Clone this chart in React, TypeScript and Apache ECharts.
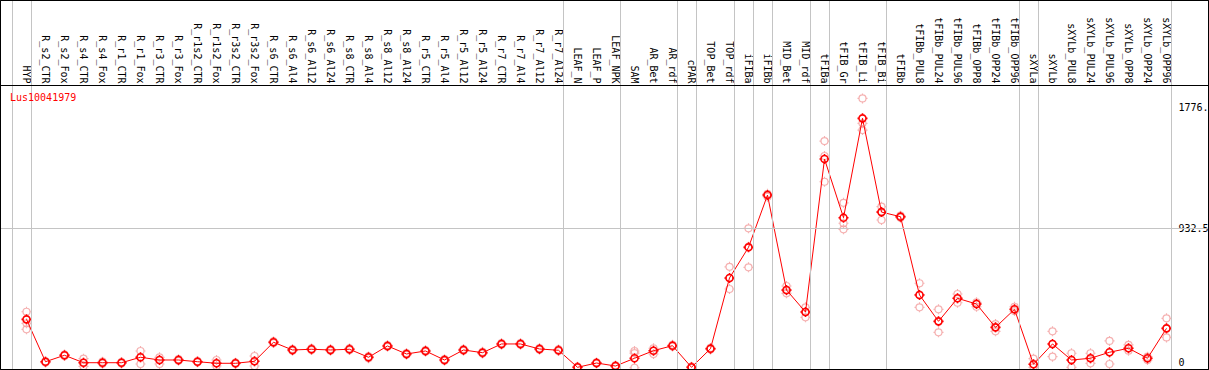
import React, { useEffect, useRef } from 'react';
import * as echarts from 'echarts';

const categories = [
  'HYP', 'R_s2_CTR', 'R_s2_Fox', 'R_s4_CTR', 'R_s4_Fox', 'R_r1_CTR', 'R_r1_Fox', 'R_r3_CTR', 'R_r3_Fox',
  'R_r1s2_CTR', 'R_r1s2_Fox', 'R_r3s2_CTR', 'R_r3s2_Fox', 'R_s6_CTR', 'R_s6_Al4', 'R_s6_Al12', 'R_s6_Al24',
  'R_s8_CTR', 'R_s8_Al4', 'R_s8_Al12', 'R_s8_Al24', 'R_r5_CTR', 'R_r5_Al4', 'R_r5_Al12', 'R_r5_Al24',
  'R_r7_CTR', 'R_r7_Al4', 'R_r7_Al12', 'R_r7_Al24', 'LEAF_N', 'LEAF_P', 'LEAF_NPK', 'SAM', 'AR_Bet', 'AR_rdf',
  'cPAR', 'TOP_Bet', 'TOP_rdf', 'iFIBa', 'iFIBb', 'MID_Bet', 'MID_rdf', 'tFIBa', 'tFIB_Gr', 'tFIB_Li', 'tFIB_Bi',
  'tFIBb', 'tFIBb_PUL8', 'tFIBb_PUL24', 'tFIBb_PUL96', 'tFIBb_OPP8', 'tFIBb_OPP24', 'tFIBb_OPP96', 'sXYLa',
  'sXYLb', 'sXYLb_PUL8', 'sXYLb_PUL24', 'sXYLb_PUL96', 'sXYLb_OPP8', 'sXYLb_OPP24', 'sXYLb_OPP96',
];

const meanValues = [
  298, 2, 47, -5, -5, -5, 33, 14, 14, 2, -9, -9, 5, 138, 84, 89, 84, 89, 33, 112, 56, 77, 14, 84, 65,
  126, 126, 91, 82, -37, -7, -28, 26, 79, 114, -37, 93, 587, 801, 1166, 503, 349, 1418, 1008, 1702, 1047,
  1015, 468, 284, 445, 405, 242, 368, -16, 126, 14, 26, 68, 96, 26, 235,
];

const rep1 = [
  351, 4, 52, 23, 2, 0, 77, 33, 20, 6, 14, -5, 42, 144, 90, 95, 90, 95, 39, 118, 62, 83, 20, 90, 71,
  132, 132, 97, 88, -33, -3, -24, 77, 96, 120, -33, 98, 665, 934, 1175, 531, 382, 1543, 1112, 1841, 1085,
  1022, 550, 368, 475, 417, 265, 386, 23, 214, 61, 61, 147, 119, 37, 305,
];

const rep2 = [
  270, 0, 47, -5, -5, -5, 33, 14, 14, 2, -9, -9, 5, 138, 84, 89, 84, 89, 33, 112, 56, 77, 14, 84, 65,
  126, 126, 91, 82, -37, -7, -28, 62, 80, 114, -37, 93, 585, 805, 1166, 500, 350, 1439, 969, 1667, 1050,
  1015, 470, 284, 445, 405, 242, 368, -16, 126, 14, 26, 68, 96, 26, 235,
];

const rep3 = [
  228, -4, 42, -30, -12, -10, -14, -14, 8, -2, -28, -13, -28, 132, 78, 83, 78, 83, 27, 106, 50, 71, 8, 78, 59,
  120, 120, 85, 76, -41, -11, -32, -40, 56, 108, -41, 88, 510, 661, 1155, 480, 312, 1259, 927, 1620, 992,
  1008, 382, 207, 414, 386, 214, 356, -37, 37, -37, -9, -14, 79, 14, 172,
];

// number of consecutive categories in each separated group
const groupSizes = [1, 28, 3, 3, 1, 2, 1, 1, 2, 1, 3, 7, 1, 7];

const yTickValues = [0, 932.5, 1776.6];
const yTickLabels = ['0', '932.5', '1776.'];

const geneId = 'Lus10041979';

// layout (pixels)
const W = 1209;
const H = 370;
const FRAME_L = 0.5;
const FRAME_T = 0.5;
const FRAME_R = 1208.5;
const FRAME_B = 369.5;
const X_FIRST = 26.5;
const X_STEP = 19;
const Y_ZERO = 362;
const Y_REF = 228.5;
const HEADER_Y = 85.5;
const SEP_OFFSET = 4.5;
const FONT = '"DejaVu Sans Mono", monospace';

const MARKER =
  'path://M8.5,5A3.5,3.5,0,1,1,1.5,5A3.5,3.5,0,1,1,8.5,5ZM5,0L5,1.5M5,8.5L5,10M0,5L1.5,5M8.5,5L10,5';

export default function App() {
  const ref = useRef<HTMLDivElement>(null);

  useEffect(() => {
    const chart = echarts.init(ref.current!, null, { renderer: 'svg' });
    const refVal = yTickValues[1];
    const K = (Y_ZERO - Y_REF) / refVal;
    const xMin = (FRAME_L - X_FIRST) / X_STEP;
    const xMax = (FRAME_R - X_FIRST) / X_STEP;
    const yMin = (Y_ZERO - FRAME_B) / K;
    const yMax = (Y_ZERO - HEADER_Y) / K;

    const boundaries: number[] = [-1];
    let acc = -1;
    groupSizes.forEach((s) => {
      acc += s;
      boundaries.push(acc);
    });
    const sepOff = SEP_OFFSET / X_STEP;
    const sepData = boundaries.map((b) => ({ xAxis: b + sepOff }));

    const repData: number[][] = [];
    [rep1, rep2, rep3].forEach((arr) => arr.forEach((v, i) => repData.push([i, v])));

    const sepStyle = { color: '#c4c4c4', width: 1, type: 'solid' };

    chart.setOption({
      animation: false,
      backgroundColor: '#fff',
      grid: [
        {
          left: FRAME_L,
          top: FRAME_T,
          width: FRAME_R - FRAME_L,
          height: HEADER_Y - FRAME_T,
          show: true,
          borderColor: '#000',
          borderWidth: 1,
          backgroundColor: '#fff',
          containLabel: false,
          outerBoundsMode: 'none',
        },
        {
          left: FRAME_L,
          top: HEADER_Y,
          width: FRAME_R - FRAME_L,
          height: FRAME_B - HEADER_Y,
          show: true,
          borderColor: '#000',
          borderWidth: 1,
          backgroundColor: '#fff',
          containLabel: false,
          outerBoundsMode: 'none',
        },
      ],
      xAxis: [
        {
          gridIndex: 0,
          type: 'value',
          min: xMin,
          max: xMax,
          show: false,
        },
        {
          gridIndex: 1,
          type: 'value',
          position: 'top',
          min: xMin,
          max: xMax,
          axisLine: { show: true, onZero: false, lineStyle: { color: '#000', width: 1 } },
          axisTick: { show: false },
          splitLine: { show: false },
          axisLabel: {
            customValues: categories.map((_, i) => i),
            formatter: (v: number) => categories[Math.round(v)] ?? '',
            rotate: 90,
            margin: 2,
            fontFamily: FONT,
            fontSize: 10,
            color: '#000',
          },
        },
      ],
      yAxis: [
        {
          gridIndex: 0,
          type: 'value',
          min: 0,
          max: 1,
          show: false,
        },
        {
          gridIndex: 1,
          type: 'value',
          position: 'right',
          min: yMin,
          max: yMax,
          axisLine: { show: false, onZero: false },
          axisTick: { show: false },
          splitLine: { show: false },
          axisLabel: {
            customValues: yTickValues,
            formatter: (v: number) => {
              const idx = yTickValues.findIndex((t) => Math.abs(t - v) < 1e-6);
              return idx >= 0 ? yTickLabels[idx] : '';
            },
            inside: true,
            align: 'left',
            margin: 30,
            fontFamily: FONT,
            fontSize: 10,
            color: '#000',
          },
        },
      ],
      graphic: [
        {
          type: 'line',
          z: 100,
          silent: true,
          shape: { x1: FRAME_L, y1: HEADER_Y, x2: FRAME_R, y2: HEADER_Y },
          style: { stroke: '#000', lineWidth: 1 },
        },
        {
          type: 'rect',
          z: 100,
          silent: true,
          shape: { x: FRAME_L, y: FRAME_T, width: FRAME_R - FRAME_L, height: FRAME_B - FRAME_T },
          style: { fill: 'none', stroke: '#000', lineWidth: 1 },
        },
        {
          type: 'text',
          left: 10,
          top: 92,
          z: 10,
          style: { text: geneId, fill: '#ff0000', font: `10px ${FONT}` },
        },
      ],
      series: [
        {
          type: 'scatter',
          xAxisIndex: 0,
          yAxisIndex: 0,
          data: [],
          silent: true,
          markLine: {
            silent: true,
            symbol: ['none', 'none'],
            label: { show: false },
            lineStyle: sepStyle,
            data: sepData,
          },
        },
        {
          type: 'scatter',
          xAxisIndex: 1,
          yAxisIndex: 1,
          data: repData,
          symbol: MARKER,
          symbolSize: 10,
          itemStyle: { color: 'rgba(0,0,0,0)', borderColor: '#f29c9c', borderWidth: 1.2 },
          z: 2,
          silent: true,
          markLine: {
            silent: true,
            symbol: ['none', 'none'],
            label: { show: false },
            lineStyle: sepStyle,
            data: [...sepData, { yAxis: refVal }],
          },
        },
        {
          type: 'line',
          xAxisIndex: 1,
          yAxisIndex: 1,
          data: meanValues.map((v, i) => [i, v]),
          symbol: MARKER,
          symbolSize: 10,
          showAllSymbol: true,
          lineStyle: { color: '#ff0000', width: 1 },
          itemStyle: { color: 'rgba(0,0,0,0)', borderColor: '#ff0000', borderWidth: 1.6 },
          z: 3,
          silent: true,
        },
      ],
    });

    return () => chart.dispose();
  }, []);

  return <div ref={ref} style={{ position: 'fixed', left: 0, top: 0, width: W, height: H }} />;
}
